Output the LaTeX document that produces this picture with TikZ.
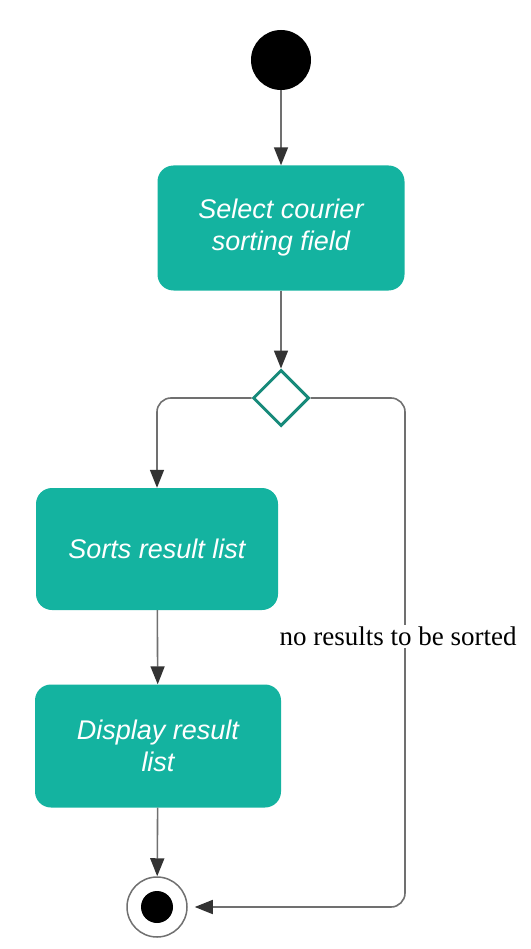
\documentclass[tikz,border=0pt]{standalone}
\usepackage{fontspec}
\setmainfont{Liberation Serif}
\newfontfamily\boxfont{Liberation Sans}
\usetikzlibrary{arrows.meta,shapes.geometric}

\definecolor{actfill}{HTML}{14B3A0}
\definecolor{diaedge}{HTML}{178A7A}
\definecolor{wire}{HTML}{707070}
\definecolor{tipc}{HTML}{333333}

\tikzset{
  action/.style={rectangle, rounded corners=16pt, fill=actfill, draw=none,
    text=white, align=center, inner sep=0pt,
    font=\boxfont\itshape\fontsize{27}{32}\selectfont},
  initnode/.style={circle, fill=black, minimum size=60pt, inner sep=0pt},
  endouter/.style={circle, draw=wire, line width=1.5pt, fill=white, minimum size=60pt, inner sep=0pt},
  choice/.style={diamond, draw=diaedge, line width=3pt, fill=white, minimum width=56pt, minimum height=56pt, inner sep=0pt},
  conn/.style={draw=wire, line width=1.6pt, -{Triangle[length=18pt,width=14pt,fill=tipc,color=tipc]}},
  guard/.style={fill=white, inner sep=2pt, font=\fontsize{27}{30}\selectfont}
}

\begin{document}
\begin{tikzpicture}[x=1pt,y=-1pt]
  \useasboundingbox (0,0) rectangle (530,949);

  % nodes of the activity
  \node[initnode] (start) at (281,60) {};
  \node[action, minimum width=247pt, minimum height=125pt] (select) at (281,228)
    {Select courier\\sorting field};
  \node[choice] (dec) at (281,398) {};
  \node[action, minimum width=242pt, minimum height=122pt] (sort) at (157,549)
    {Sorts result list};
  \node[action, minimum width=246pt, minimum height=123pt] (show) at (158,746)
    {Display result\\list};
  \node[endouter] (finish) at (157,907) {};
  \fill[black] (finish.center) circle (16pt);

  \coordinate (bend) at (405,636);

  % flows
  \draw[conn] (start) -- (select);
  \draw[conn] (select) -- (dec);
  \draw[conn, rounded corners=14pt] (dec.west) -| (sort.north);
  \draw[conn] (sort) -- (show);
  \draw[conn] (show) -- (finish);
  \draw[conn, rounded corners=14pt, shorten >=7pt] (dec.east) -| (bend) |- (finish.east);

  % guard on the empty branch
  \node[guard] (nores) at (398,636) {no results to be sorted};
\end{tikzpicture}
\end{document}
